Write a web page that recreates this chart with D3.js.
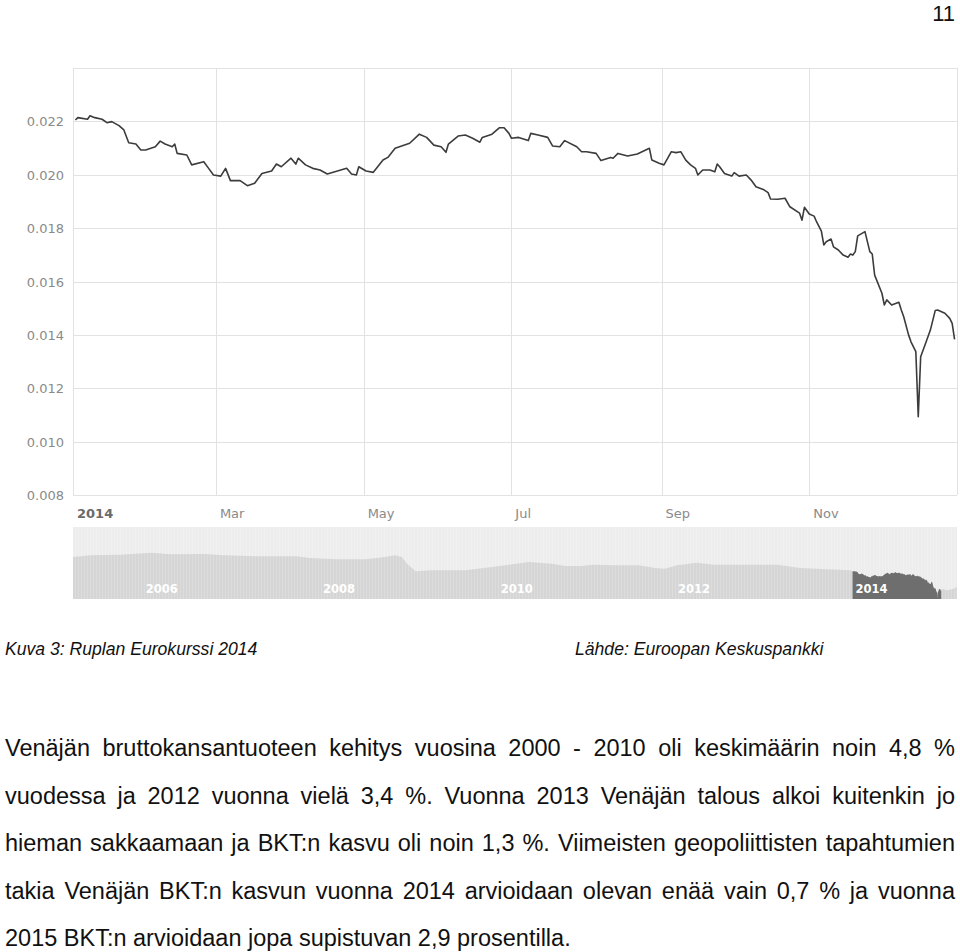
<!DOCTYPE html>
<html>
<head>
<meta charset="utf-8">
<script src="https://cdn.jsdelivr.net/npm/d3@7"></script>
<style>
  body { margin: 0; background: #fff; }
  svg { display: block; }
</style>
</head>
<body>
<div id="page"></div>
<script>

// RUB in EUR, 2014 (main chart)
const rateDates = ["2014-01-02","2014-01-03","2014-01-07","2014-01-08","2014-01-10","2014-01-13","2014-01-15","2014-01-17","2014-01-20","2014-01-22",
  "2014-01-24","2014-01-27","2014-01-29","2014-01-31","2014-02-04","2014-02-06","2014-02-08","2014-02-11","2014-02-12","2014-02-13",
  "2014-02-17","2014-02-19","2014-02-24","2014-02-26","2014-02-28","2014-03-03","2014-03-05","2014-03-07","2014-03-11","2014-03-14",
  "2014-03-17","2014-03-20","2014-03-24","2014-03-26","2014-03-28","2014-04-01","2014-04-03","2014-04-04","2014-04-07","2014-04-10",
  "2014-04-13","2014-04-16","2014-04-24","2014-04-26","2014-04-28","2014-04-29","2014-05-02","2014-05-05","2014-05-09","2014-05-11",
  "2014-05-14","2014-05-20","2014-05-24","2014-05-27","2014-05-30","2014-06-02","2014-06-04","2014-06-05","2014-06-09","2014-06-12",
  "2014-06-15","2014-06-18","2014-06-19","2014-06-23","2014-06-26","2014-06-28","2014-06-30","2014-07-01","2014-07-04","2014-07-08",
  "2014-07-09","2014-07-12","2014-07-16","2014-07-18","2014-07-21","2014-07-23","2014-07-28","2014-07-30","2014-08-01","2014-08-05",
  "2014-08-07","2014-08-11","2014-08-12","2014-08-14","2014-08-18","2014-08-22","2014-08-27","2014-08-28","2014-08-31","2014-09-02",
  "2014-09-05","2014-09-07","2014-09-09","2014-09-11","2014-09-13","2014-09-15","2014-09-16","2014-09-18","2014-09-21","2014-09-23",
  "2014-09-24","2014-09-25","2014-09-27","2014-09-30","2014-10-01","2014-10-03","2014-10-06","2014-10-08","2014-10-10","2014-10-13",
  "2014-10-15","2014-10-16","2014-10-19","2014-10-22","2014-10-24","2014-10-28","2014-10-29","2014-10-30","2014-11-01","2014-11-03",
  "2014-11-04","2014-11-06","2014-11-07","2014-11-08","2014-11-10","2014-11-11","2014-11-13","2014-11-15","2014-11-17","2014-11-18",
  "2014-11-19","2014-11-20","2014-11-21","2014-11-24","2014-11-26","2014-11-27","2014-11-28","2014-12-01","2014-12-02","2014-12-03",
  "2014-12-05","2014-12-08","2014-12-09","2014-12-10","2014-12-12","2014-12-13","2014-12-15","2014-12-16","2014-12-17","2014-12-19",
  "2014-12-21","2014-12-23","2014-12-24","2014-12-27","2014-12-29","2014-12-30","2014-12-31"]
const rateValues = [0.02205,0.02214,0.02208,0.02221,0.02214,0.02208,0.02195,0.02199,0.02184,0.02168,
  0.02120,0.02115,0.02093,0.02093,0.02105,0.02126,0.02115,0.02105,0.02115,0.02080,
  0.02074,0.02037,0.02049,0.02024,0.01999,0.01995,0.02024,0.01978,0.01978,0.01959,
  0.01968,0.02005,0.02014,0.02040,0.02030,0.02062,0.02040,0.02062,0.02037,0.02024,
  0.02018,0.02003,0.02024,0.02003,0.01999,0.02030,0.02014,0.02009,0.02055,0.02065,
  0.02099,0.02118,0.02152,0.02140,0.02111,0.02105,0.02084,0.02115,0.02145,0.02149,
  0.02137,0.02122,0.02140,0.02152,0.02176,0.02176,0.02155,0.02137,0.02140,0.02128,
  0.02155,0.02149,0.02140,0.02108,0.02105,0.02128,0.02105,0.02086,0.02086,0.02080,
  0.02053,0.02065,0.02062,0.02080,0.02070,0.02078,0.02099,0.02055,0.02043,0.02037,
  0.02086,0.02083,0.02086,0.02055,0.02037,0.02024,0.01999,0.02018,0.02018,0.02011,
  0.02040,0.02030,0.02005,0.01995,0.02008,0.01995,0.01999,0.01980,0.01955,0.01945,
  0.01933,0.01909,0.01908,0.01912,0.01880,0.01856,0.01830,0.01878,0.01853,0.01845,
  0.01824,0.01789,0.01737,0.01749,0.01759,0.01730,0.01718,0.01699,0.01691,0.01703,
  0.01699,0.01712,0.01771,0.01787,0.01712,0.01703,0.01624,0.01556,0.01512,0.01531,
  0.01512,0.01522,0.01493,0.01468,0.01400,0.01374,0.01337,0.01093,0.01318,0.01368,
  0.01418,0.01491,0.01493,0.01481,0.01462,0.01443,0.01383]

// navigator (long history) before and after 2014
const historyDates = ["2005-03-20","2005-06-01","2005-10-02","2006-02-03","2006-04-26","2006-09-10","2006-12-01","2007-04-18","2007-09-28","2007-11-22",
  "2008-03-11","2008-07-05","2008-09-24","2008-11-05","2008-12-03","2008-12-24","2009-01-29","2009-04-06","2009-08-20","2009-12-09",
  "2010-02-17","2010-05-09","2010-08-13","2010-10-07","2010-12-12","2011-01-26","2011-05-01","2011-08-05","2011-10-12","2011-11-21",
  "2012-01-08","2012-04-01","2012-06-09","2012-10-11","2013-02-25","2013-05-31","2013-09-17","2013-12-23"]
const historyValues = [0.02795,0.02864,0.02889,0.02970,0.02905,0.02917,0.02864,0.02823,0.02823,0.02754,
  0.02701,0.02701,0.02795,0.02864,0.02795,0.02521,0.02210,0.02251,0.02251,0.02386,
  0.02480,0.02590,0.02521,0.02427,0.02427,0.02480,0.02455,0.02455,0.02345,0.02316,
  0.02455,0.02562,0.02480,0.02480,0.02480,0.02345,0.02292,0.02251]
const laterDates = ["2015-01-05","2015-01-25","2015-02-21","2015-03-06"]
const laterValues = [0.01500,0.01433,0.01500,0.01568]

// tick labels
const yTicks = [0.008, 0.010, 0.012, 0.014, 0.016, 0.018, 0.020, 0.022, 0.024]
const monthLabels = ["2014", "Mar", "May", "Jul", "Sep", "Nov"]
const navYears = ["2006", "2008", "2010", "2012", "2014"]

const captionLeft = "Kuva 3: Ruplan Eurokurssi 2014"
const captionRight = "Lähde: Euroopan Keskuspankki"
const bodyLines = [
  "Venäjän bruttokansantuoteen kehitys vuosina 2000 - 2010 oli keskimäärin noin 4,8 %",
  "vuodessa ja 2012 vuonna vielä 3,4 %. Vuonna 2013 Venäjän talous alkoi kuitenkin jo",
  "hieman sakkaamaan ja BKT:n kasvu oli noin 1,3 %. Viimeisten geopoliittisten tapahtumien",
  "takia Venäjän BKT:n kasvun vuonna 2014 arvioidaan olevan enää vain 0,7 % ja vuonna",
  "2015 BKT:n arvioidaan jopa supistuvan 2,9 prosentilla."
]

const width = 960, height = 952
const plot = { left: 73, right: 957, top: 68, bottom: 495 }
const nav = { top: 527, bottom: 599 }
const axisFont = "'DejaVu Sans', Verdana, sans-serif"
const docFont = "'Liberation Sans', Arial, sans-serif"

const parse = d3.timeParse("%Y-%m-%d")
const rates = rateDates.map((d, i) => ({ date: parse(d), value: rateValues[i] }))
const navData = historyDates.map((d, i) => ({ date: parse(d), value: historyValues[i] }))
  .concat(rates)
  .concat(laterDates.map((d, i) => ({ date: parse(d), value: laterValues[i] })))

const svg = d3.select("#page")
  .append("svg")
  .attr("width", width)
  .attr("height", height)

const x = d3.scaleTime()
  .domain([new Date(2014, 0, 1), new Date(2015, 0, 1)])
  .range([plot.left, plot.right])

const y = d3.scaleLinear()
  .domain([0.008, 0.024])
  .range([plot.bottom, plot.top])

// grid
const grid = svg.append("g").attr("stroke", "#e2e2e2").attr("shape-rendering", "crispEdges")
grid.selectAll("line.h")
  .data(yTicks)
  .join("line")
  .attr("class", "h")
  .attr("x1", plot.left).attr("x2", plot.right)
  .attr("y1", d => Math.round(y(d)) + 0.5).attr("y2", d => Math.round(y(d)) + 0.5)

const monthTicks = d3.timeMonth.every(2).range(new Date(2014, 0, 1), new Date(2015, 0, 2))
grid.selectAll("line.v")
  .data(monthTicks)
  .join("line")
  .attr("class", "v")
  .attr("x1", d => Math.round(x(d)) + 0.5).attr("x2", d => Math.round(x(d)) + 0.5)
  .attr("y1", plot.top).attr("y2", plot.bottom)

// y labels
svg.append("g")
  .selectAll("text")
  .data(yTicks.slice(0, -1))
  .join("text")
  .attr("x", 64)
  .attr("y", d => y(d) + 5)
  .attr("text-anchor", "end")
  .attr("font-family", axisFont)
  .attr("font-size", 13)
  .attr("fill", "#8a8a8a")
  .text(d => d.toFixed(3))

// x labels
svg.append("g")
  .selectAll("text")
  .data(monthTicks.slice(0, monthLabels.length))
  .join("text")
  .attr("x", d => x(d) + 4)
  .attr("y", 518)
  .attr("font-family", axisFont)
  .attr("font-size", 13)
  .attr("font-weight", (d, i) => i === 0 ? "bold" : "normal")
  .attr("fill", (d, i) => i === 0 ? "#6a6a6a" : "#8a8a8a")
  .text((d, i) => monthLabels[i])

// the rate line
const line = d3.line()
  .x(d => x(d.date))
  .y(d => y(d.value))

svg.append("path")
  .datum(rates)
  .attr("d", line)
  .attr("fill", "none")
  .attr("stroke", "#3c3c3c")
  .attr("stroke-width", 1.6)
  .attr("stroke-linejoin", "round")

// navigator
const nx = d3.scaleTime()
  .domain([new Date(2005, 2, 20), new Date(2015, 2, 7)])
  .range([plot.left, plot.right])
const ny = d3.scaleLinear()
  .domain([0.0108, 0.0402])
  .range([nav.bottom, nav.top])

const defs = svg.append("defs")
const stripes = defs.append("pattern")
  .attr("id", "stripes")
  .attr("width", 3).attr("height", 10)
  .attr("patternUnits", "userSpaceOnUse")
stripes.append("rect").attr("x", 0).attr("width", 1).attr("height", 10).attr("fill", "#fff").attr("opacity", 0.18)

defs.append("clipPath").attr("id", "sel")
  .append("rect")
  .attr("x", nx(new Date(2014, 0, 1)))
  .attr("width", nx(new Date(2015, 0, 1)) - nx(new Date(2014, 0, 1)))
  .attr("y", nav.top).attr("height", nav.bottom - nav.top)

const area = d3.area()
  .x(d => nx(d.date))
  .y0(nav.bottom)
  .y1(d => ny(d.value))

svg.append("rect")
  .attr("x", plot.left).attr("y", nav.top)
  .attr("width", plot.right - plot.left).attr("height", nav.bottom - nav.top)
  .attr("fill", "#ededed")

svg.append("path")
  .datum(navData)
  .attr("d", area)
  .attr("fill", "#d5d5d5")

svg.append("rect")
  .attr("x", plot.left).attr("y", nav.top)
  .attr("width", plot.right - plot.left).attr("height", nav.bottom - nav.top)
  .attr("fill", "url(#stripes)")

svg.append("path")
  .datum(navData)
  .attr("d", area)
  .attr("fill", "#6e6e6e")
  .attr("clip-path", "url(#sel)")

svg.append("g")
  .selectAll("text")
  .data(navYears)
  .join("text")
  .attr("x", d => nx(new Date(+d, 0, 1)) + 3)
  .attr("y", 593)
  .attr("font-family", axisFont)
  .attr("font-size", 11.5)
  .attr("font-weight", "bold")
  .attr("fill", "#fff")
  .text(d => d)

// page number and captions
svg.append("text")
  .attr("x", 955).attr("y", 21)
  .attr("text-anchor", "end")
  .attr("font-family", docFont)
  .attr("font-size", 22)
  .attr("fill", "#111")
  .text("11")

svg.append("text")
  .attr("x", 5).attr("y", 655)
  .attr("font-family", docFont)
  .attr("font-size", 17.6)
  .attr("font-style", "italic")
  .attr("fill", "#111")
  .text(captionLeft)

svg.append("text")
  .attr("x", 575).attr("y", 655)
  .attr("font-family", docFont)
  .attr("font-size", 17.6)
  .attr("font-style", "italic")
  .attr("fill", "#111")
  .text(captionRight)

// body text, justified except the last line
const textLeft = 5, textRight = 955
bodyLines.forEach((str, li) => {
  const base = 756 + li * 47.5
  const g = svg.append("g")
    .attr("font-family", docFont)
    .attr("font-size", 23.5)
    .attr("fill", "#111")
  if (li === bodyLines.length - 1) {
    g.append("text").attr("x", textLeft).attr("y", base).text(str)
    return
  }
  const words = str.split(" ")
  const nodes = words.map(w => g.append("text").attr("y", base).text(w))
  const widths = nodes.map(n => n.node().getComputedTextLength())
  const gap = (textRight - textLeft - d3.sum(widths)) / (words.length - 1)
  let pos = textLeft
  nodes.forEach((n, i) => {
    n.attr("x", pos)
    pos += widths[i] + gap
  })
})

</script>
</body>
</html>
